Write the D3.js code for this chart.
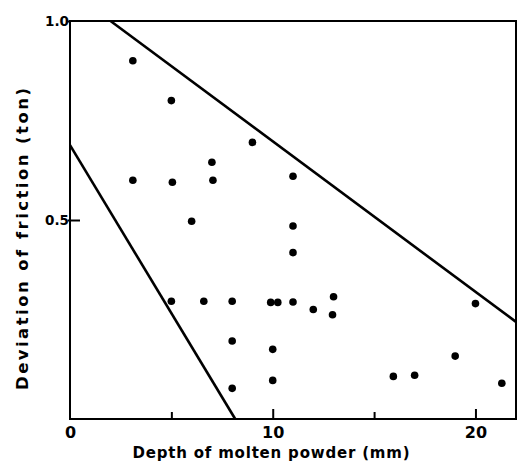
<!DOCTYPE html>
<html><head><meta charset="utf-8">
<script src="https://cdn.jsdelivr.net/npm/d3@7"></script>
<style>
html,body{margin:0;padding:0;background:#fff;}
svg{display:block;}
text{font-family:"DejaVu Sans","Liberation Sans",sans-serif;font-weight:bold;fill:#000;}
</style></head>
<body>
<script>
// Data
const depthMM = [3.1,5,9,7,3.1,5.05,7.05,11,6,11,11,5,6.6,8,9.9,10.25,11,12,13,12.95,8,8,10,10,15.95,17,19,20,21.3];
const frictionDev = [0.90,0.80,0.695,0.645,0.60,0.595,0.60,0.61,0.497,0.485,0.418,0.296,0.296,0.296,0.293,0.293,0.294,0.275,0.307,0.262,0.196,0.077,0.175,0.097,0.107,0.110,0.158,0.290,0.090];
// Envelope lines (two endpoints each)
const upperLineX = [2.0, 22];
const upperLineY = [1.0, 0.244];
const lowerLineX = [0, 8.15];
const lowerLineY = [0.688, 0];
const xTicks = [0,5,10,15,20];
const xTickLabels = ["0","","10","","20"];
const yTicks = [0.5,1.0];
const yTickLabels = ["0.5","1.0"];
const xTitle = "Depth of molten powder (mm)";
const yTitle = "Deviation of friction (ton)";

const W = 519, H = 466;
const L = 70, R = 516, T = 21, B = 419;
const svg = d3.select("body").append("svg").attr("width", W).attr("height", H);
const x = d3.scaleLinear().domain([0,22]).range([L,R]);
const y = d3.scaleLinear().domain([0,1]).range([B,T]);

// frame
svg.append("rect").attr("x",L).attr("y",T).attr("width",R-L).attr("height",B-T)
  .attr("fill","none").attr("stroke","#000").attr("stroke-width",2);

// x ticks (inward)
const xa = svg.append("g").attr("transform",`translate(0,${B})`)
  .call(d3.axisBottom(x).tickValues(xTicks).tickSize(0).tickFormat((d,i)=>xTickLabels[i]));
xa.select(".domain").remove();
xa.selectAll(".tick line").attr("y1",0).attr("y2",(d)=> d%10===0 && d>0 ? -10 : (d===0?0:-7))
  .attr("stroke","#000").attr("stroke-width",2);
xa.selectAll(".tick text").attr("y",19).attr("dy",0).style("font-size","16px").style("font-family","DejaVu Sans, sans-serif");

// y ticks
const ya = svg.append("g").attr("transform",`translate(${L},0)`)
  .call(d3.axisLeft(y).tickValues(yTicks).tickSize(0).tickFormat((d,i)=>yTickLabels[i]));
ya.select(".domain").remove();
ya.selectAll(".tick line").attr("x1",-2).attr("x2",(d)=> d<1 ? 10 : 0).attr("stroke","#000").attr("stroke-width",2);
ya.selectAll(".tick text").attr("x",-1).attr("dy","0.36em").style("font-size","13.5px").style("font-family","DejaVu Sans, sans-serif");

// envelope lines
const line = d3.line().x(d=>x(d[0])).y(d=>y(d[1]));
svg.append("path").datum(upperLineX.map((v,i)=>[v,upperLineY[i]]))
  .attr("d",line).attr("fill","none").attr("stroke","#000").attr("stroke-width",2.6);
svg.append("path").datum(lowerLineX.map((v,i)=>[v,lowerLineY[i]]))
  .attr("d",line).attr("fill","none").attr("stroke","#000").attr("stroke-width",2.6);

// points
svg.append("g").selectAll("circle").data(depthMM).join("circle")
  .attr("cx",d=>x(d)).attr("cy",(d,i)=>y(frictionDev[i])).attr("r",3.8).attr("fill","#000");

// titles
svg.append("text").attr("x",271).attr("y",458).attr("text-anchor","middle")
  .style("font-size","15px").attr("textLength",277).attr("lengthAdjust","spacing").text(xTitle);
svg.append("text").attr("transform","translate(28,239) rotate(-90)").attr("text-anchor","middle")
  .style("font-size","16.5px").attr("textLength",302).attr("lengthAdjust","spacing").text(yTitle);
</script>
</body></html>
